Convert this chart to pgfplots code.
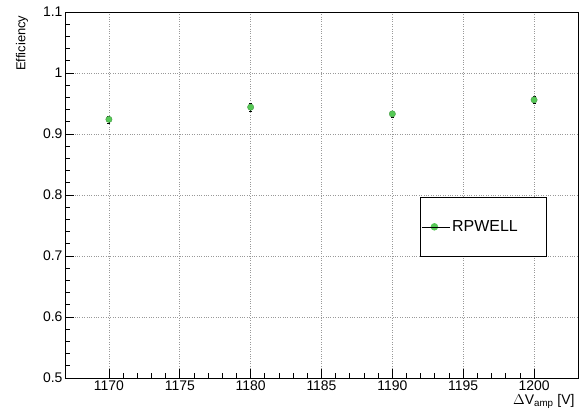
\documentclass[border=0pt]{standalone}
\usepackage{pgfplots}
\pgfplotsset{compat=1.18}
\usepackage{fontspec}
\setmainfont{Liberation Sans}
\definecolor{rgreen}{RGB}{85,200,85}
\begin{document}
\begin{tikzpicture}[x=1bp,y=1bp]
\path[use as bounding box] (0,0) rectangle (579,409);
\begin{axis}[
  at={(65bp,31bp)}, anchor=south west,
  scale only axis, width=513bp, height=366bp,
  xmin=1166.9, xmax=1203.1, ymin=0.5, ymax=1.1,
  xtick={1170,1175,...,1200}, ytick={0.5,0.6,...,1.1},
  minor x tick num=4, minor y tick num=4,
  tick pos=left, tick align=inside,
  major tick length=9bp, minor tick length=5bp,
  every tick/.style={black, line width=0.8pt},
  grid=major, major grid style={gray!80, dotted, line width=0.6pt},
  axis line style={black, line width=0.9pt},
  /pgf/number format/assume math mode=true,
  ticklabel style={font=\fontsize{14}{16}\selectfont},
  yticklabel style={/pgf/number format/fixed, xshift=1bp},
  xticklabel style={/pgf/number format/set thousands separator={}, yshift=1bp},
  scaled ticks=false,
  ylabel={Efficiency},
  ylabel style={font=\fontsize{13}{15}\selectfont, at={(axis description cs:-0.084,1)}, anchor=east},
  xlabel={$\Delta$V\textsubscript{amp} [V]},
  xlabel style={font=\fontsize{14}{16}\selectfont, at={(axis description cs:1,0)}, anchor=north east, yshift=-13bp, xshift=0bp},
  legend style={at={(0.6926,0.4945)}, anchor=north west, draw=black, line width=0.6pt,
    font=\fontsize{16}{18}\selectfont, inner xsep=1bp, inner ysep=2bp,
    nodes={inner sep=2bp}},
  legend cell align=left,
  clip=false,
]
\addplot[forget plot, black, line width=0.6pt, only marks, mark=*, mark size=3.2bp,
  mark options={fill=rgreen, draw=rgreen!70!black, line width=0.3pt},
  error bars/.cd, y dir=both, y explicit, error bar style={black, line width=0.8pt}, error mark options={black, mark size=1.5bp, rotate=90}]
coordinates {
(1170,0.924) +- (0,0.006)
(1180,0.944) +- (0,0.006)
(1190,0.933) +- (0,0.005)
(1200,0.956) +- (0,0.006)
};
\addlegendimage{legend image code/.code={\draw[black,line width=0.6pt] (1bp,0bp) -- (24bp,0bp); \fill[rgreen] (12.5bp,0bp) circle (3.4bp); \path (0bp,0bp) -- (28bp,0bp);}}
\addlegendentry[text width=91bp, minimum height=55bp]{RPWELL}
\end{axis}
\end{tikzpicture}
\end{document}
